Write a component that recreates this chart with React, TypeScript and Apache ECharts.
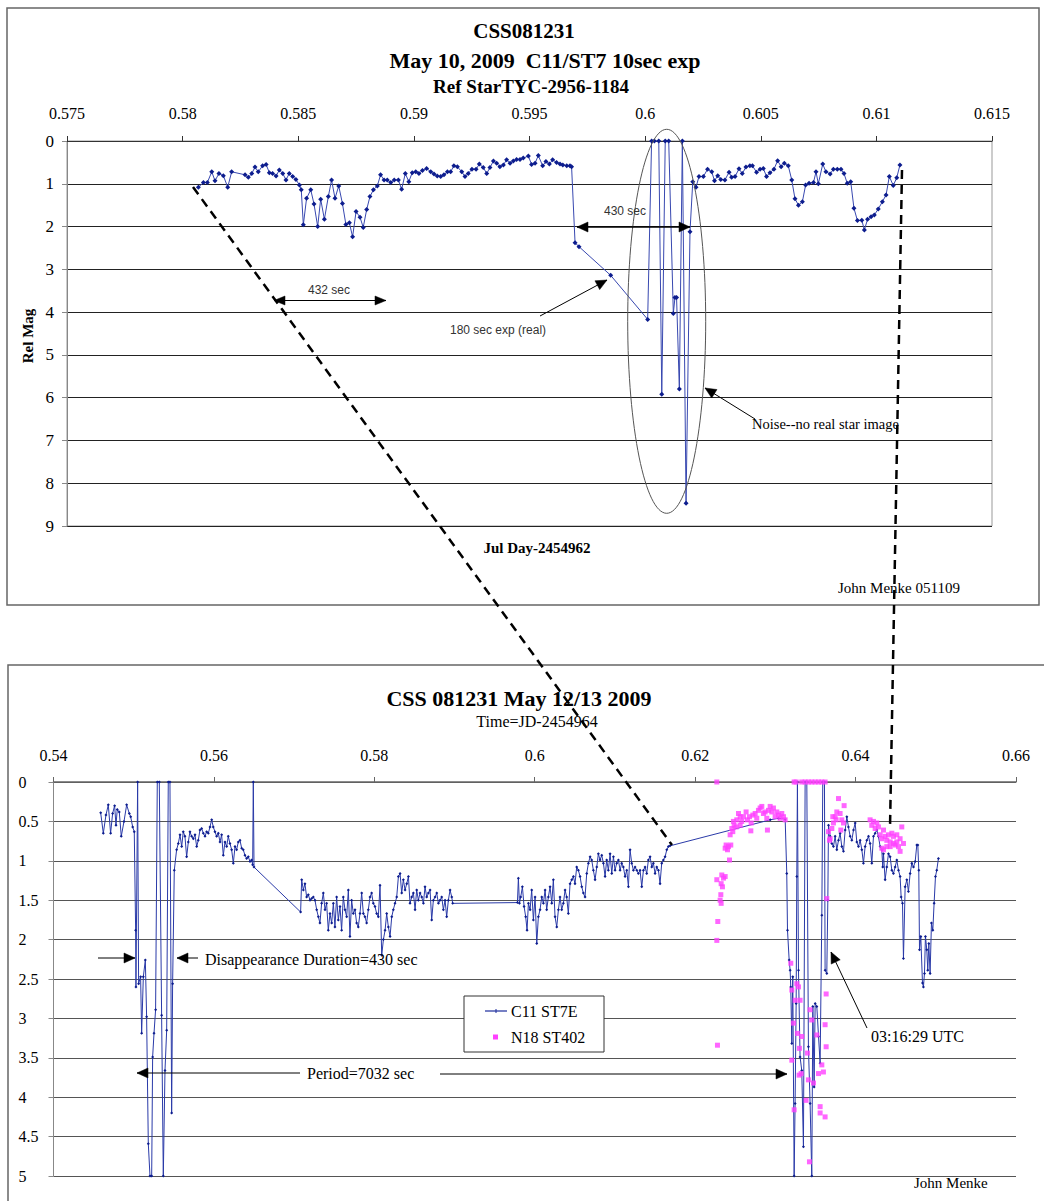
import React, { useEffect, useRef } from 'react';
import * as echarts from 'echarts';

const SERIF = '"Liberation Serif", "Times New Roman", serif';
const SANS = '"Liberation Sans", Arial, sans-serif';

// ---------- Top chart (May 10, 2009): [JD-2454962, Rel Mag] ----------
const topBeforeEclipse: number[][] = [
  [0.58068, 1.08], [0.5809, 0.97], [0.58107, 0.97], [0.58126, 0.72], [0.5814, 0.93], [0.58157, 0.76], [0.58176, 0.81],
  [0.58195, 1.08], [0.58212, 0.72], [0.5827, 0.79], [0.58284, 0.85], [0.58299, 0.76], [0.58313, 0.61], [0.58327, 0.72],
  [0.58346, 0.58], [0.58361, 0.55], [0.58375, 0.74], [0.58389, 0.76], [0.58404, 0.82], [0.58418, 0.68], [0.58433, 0.76],
  [0.58447, 0.91], [0.58461, 0.76], [0.58476, 0.83], [0.5849, 0.9], [0.58505, 1.03], [0.58513, 1.14], [0.58522, 1.96],
  [0.58536, 1.34], [0.58554, 1.14], [0.58568, 1.47], [0.58584, 2.0], [0.58597, 1.36], [0.58613, 1.83], [0.5863, 1.3],
  [0.58644, 0.91], [0.58659, 1.34], [0.58675, 1.05], [0.58691, 1.46], [0.58706, 1.95], [0.58721, 1.91], [0.58735, 2.24],
  [0.5875, 1.65], [0.58767, 1.78], [0.58781, 2.02], [0.58796, 1.6], [0.5881, 1.3], [0.58825, 1.14], [0.58842, 1.05],
  [0.58856, 0.79], [0.58871, 0.91], [0.58885, 0.91], [0.589, 0.97], [0.58915, 0.91], [0.58933, 0.91], [0.58947, 1.13],
  [0.58963, 0.76], [0.58978, 0.95], [0.58993, 0.74], [0.59008, 0.72], [0.59022, 0.76], [0.59037, 0.69], [0.59055, 0.64],
  [0.59073, 0.72], [0.59087, 0.77], [0.59101, 0.82], [0.59116, 0.83], [0.5913, 0.79], [0.59145, 0.72], [0.59159, 0.72],
  [0.59173, 0.58], [0.59188, 0.6], [0.59207, 0.72], [0.59221, 0.83], [0.59235, 0.76], [0.59251, 0.66], [0.59269, 0.66],
  [0.59283, 0.54], [0.593, 0.62], [0.59315, 0.76], [0.59329, 0.62], [0.59344, 0.47], [0.59358, 0.52], [0.59372, 0.6],
  [0.59387, 0.56], [0.59401, 0.44], [0.59416, 0.52], [0.5943, 0.47], [0.59444, 0.43], [0.59459, 0.43], [0.59473, 0.4],
  [0.59495, 0.35], [0.59509, 0.55], [0.59524, 0.52], [0.59538, 0.34], [0.59557, 0.58], [0.59571, 0.48], [0.59586, 0.54],
  [0.596, 0.44], [0.59617, 0.5], [0.59632, 0.54], [0.59644, 0.56], [0.59661, 0.58], [0.59675, 0.58], [0.59682, 0.6],
];
const topEclipse: number[][] = [
  [0.59697, 2.38], [0.59714, 2.47], [0.59851, 3.14], [0.60011, 4.17], [0.60028, 0], [0.6004, 0], [0.60059, 0],
  [0.60072, 5.92], [0.60087, 0], [0.60102, 0], [0.60122, 4.03], [0.60129, 3.66], [0.60136, 3.66], [0.60148, 5.8],
  [0.60161, 0], [0.60177, 8.47], [0.60194, 2.12],
];
const topAfterEclipse: number[][] = [
  [0.60206, 0.95], [0.6022, 1.08], [0.60233, 0.83], [0.60252, 0.83], [0.6027, 0.66], [0.60288, 0.72], [0.603, 0.93],
  [0.60314, 0.81], [0.60327, 0.9], [0.60345, 0.91], [0.60363, 0.73], [0.60374, 0.85], [0.60389, 0.83], [0.60406, 0.65],
  [0.6042, 0.76], [0.60436, 0.61], [0.60453, 0.58], [0.60464, 0.58], [0.60482, 0.73], [0.60497, 0.66], [0.60511, 0.64],
  [0.60525, 0.83], [0.6054, 0.74], [0.60557, 0.66], [0.60573, 0.46], [0.60588, 0.6], [0.60602, 0.52], [0.60619, 0.58],
  [0.60634, 0.91], [0.60648, 1.35], [0.60663, 1.5], [0.6068, 1.42], [0.60694, 1.03], [0.60709, 0.99], [0.60728, 0.97],
  [0.60739, 0.72], [0.60749, 1.0], [0.60768, 0.54], [0.60782, 0.72], [0.608, 0.77], [0.60814, 0.66], [0.60831, 0.66],
  [0.60847, 0.66], [0.6086, 0.76], [0.60874, 0.99], [0.60889, 0.95], [0.60903, 1.57], [0.60918, 1.86], [0.60937, 1.85],
  [0.60948, 2.08], [0.60962, 1.83], [0.60977, 1.77], [0.60991, 1.73], [0.61008, 1.59], [0.61026, 1.42], [0.61042, 1.26],
  [0.61056, 0.83], [0.61073, 1.04], [0.61088, 0.86], [0.61102, 0.56],
];

// ---------- Bottom chart (May 12/13, 2009): [JD-2454964, mag] ----------
const c11Start: number[][] = [
  [0.54588, 0.39], [0.54621, 0.65], [0.54654, 0.42], [0.54683, 0.29], [0.54712, 0.65], [0.54737, 0.4], [0.54762, 0.3],
  [0.54779, 0.55], [0.54795, 0.35], [0.5482, 0.38], [0.54845, 0.69], [0.54879, 0.5], [0.54912, 0.29], [0.54945, 0.4],
  [0.54962, 0.44], [0.54987, 0.57], [0.55007, 0.63],
];
const c11Eclipse1: number[][] = [
  [0.55024, 1.88], [0.55028, 2.6], [0.55049, 0], [0.55061, 2.56], [0.55086, 2.47], [0.55099, 3.19], [0.5512, 2.47],
  [0.55145, 2.26], [0.55161, 2.98], [0.55182, 4.59], [0.55203, 5], [0.55224, 5], [0.55236, 3.49], [0.55253, 3.19],
  [0.55273, 2.89], [0.55294, 0], [0.55319, 0], [0.55348, 2.96], [0.55369, 5], [0.5539, 3.66], [0.55411, 3.15],
  [0.55431, 0], [0.55452, 0], [0.55473, 4.2], [0.55485, 2.56],
];
const c11Recovery1: number[][] = [
  [0.55506, 1.12], [0.55535, 0.86], [0.55556, 0.78], [0.55577, 0.67], [0.55598, 0.82], [0.55618, 0.63], [0.55639, 0.69],
  [0.5566, 0.95], [0.55681, 0.76], [0.55701, 0.63], [0.55722, 0.69], [0.55743, 0.72], [0.55764, 0.67], [0.55785, 0.82],
  [0.55805, 0.74], [0.55826, 0.61], [0.55847, 0.59], [0.55868, 0.65], [0.55889, 0.69], [0.55909, 0.63], [0.5593, 0.65],
  [0.55951, 0.57], [0.55972, 0.48], [0.55992, 0.57], [0.56013, 0.63], [0.56034, 0.69], [0.56055, 0.65], [0.56076, 0.76],
  [0.56096, 0.67], [0.56117, 0.93], [0.56138, 0.76], [0.56159, 0.82], [0.56179, 0.69], [0.562, 0.78], [0.56221, 0.86],
  [0.56242, 1.03], [0.56263, 0.82], [0.56283, 0.86], [0.56304, 0.76], [0.56325, 0.74], [0.56346, 0.84], [0.56366, 0.86],
  [0.56387, 0.93], [0.56408, 0.97], [0.56429, 0.95], [0.5645, 1.01], [0.5647, 0.99], [0.56483, 1.05], [0.56491, 0],
  [0.565, 1.08],
];
const c11Minimum: number[][] = [
  [0.57081, 1.65], [0.57094, 1.24], [0.57115, 1.37], [0.57135, 1.29], [0.57156, 1.46], [0.57177, 1.43], [0.57198, 1.5],
  [0.57218, 1.48], [0.57239, 1.46], [0.5726, 1.5], [0.57281, 1.62], [0.57302, 1.71], [0.57322, 1.79], [0.57343, 1.54],
  [0.57364, 1.41], [0.57385, 1.62], [0.57405, 1.54], [0.57426, 1.88], [0.57447, 1.67], [0.57468, 1.79], [0.57489, 1.54],
  [0.57509, 1.84], [0.5753, 1.46], [0.57551, 1.75], [0.57572, 1.58], [0.57592, 1.88], [0.57613, 1.46], [0.57634, 1.62],
  [0.57655, 1.71], [0.57676, 1.37], [0.57696, 1.96], [0.57717, 1.5], [0.57738, 1.67], [0.57759, 1.62], [0.57779, 1.79],
  [0.578, 1.84], [0.57821, 1.67], [0.57842, 1.41], [0.57863, 1.67], [0.57883, 1.71], [0.57904, 1.79], [0.57925, 1.62],
  [0.57946, 1.46], [0.57966, 1.41], [0.57987, 1.54], [0.58008, 1.58], [0.58029, 1.67], [0.5805, 1.71], [0.58071, 1.31],
  [0.58092, 2.2], [0.58113, 2.0], [0.58134, 1.88], [0.58154, 1.67], [0.58175, 1.84], [0.58196, 1.96], [0.58217, 1.71],
  [0.58237, 1.62], [0.58258, 1.54], [0.58279, 1.46], [0.583, 1.2], [0.58321, 1.16], [0.58341, 1.41], [0.58362, 1.24],
  [0.58383, 1.37], [0.58404, 1.29], [0.58425, 1.2], [0.58445, 1.54], [0.58466, 1.46], [0.58487, 1.41], [0.58508, 1.62],
  [0.58528, 1.37], [0.58549, 1.5], [0.5857, 1.41], [0.58591, 1.46], [0.58612, 1.54], [0.58632, 1.33], [0.58653, 1.46],
  [0.58674, 1.41], [0.58695, 1.37], [0.58715, 1.75], [0.58736, 1.5], [0.58757, 1.46], [0.58778, 1.41], [0.58799, 1.54],
  [0.58819, 1.5], [0.5884, 1.46], [0.58861, 1.62], [0.58882, 1.5], [0.58902, 1.71], [0.58923, 1.5], [0.58944, 1.37],
  [0.58965, 1.46], [0.58977, 1.54], [0.59784, 1.53],
];
const c11Rise: number[][] = [
  [0.59796, 1.22], [0.59809, 1.54], [0.59825, 1.46], [0.59846, 1.33], [0.59867, 1.58], [0.59887, 1.71], [0.59904, 1.88],
  [0.59921, 1.54], [0.59942, 1.62], [0.59962, 1.37], [0.59983, 1.75], [0.60004, 1.46], [0.60025, 2.05], [0.60045, 1.71],
  [0.60066, 1.62], [0.60087, 1.46], [0.60108, 1.54], [0.60129, 1.37], [0.60149, 1.62], [0.6017, 1.46], [0.60191, 1.33],
  [0.60212, 1.54], [0.60232, 1.24], [0.60253, 1.71], [0.60274, 1.84], [0.60295, 1.62], [0.60315, 1.46], [0.60336, 1.62],
  [0.60357, 1.54], [0.60378, 1.37], [0.60398, 1.46], [0.60419, 1.67], [0.6044, 1.29], [0.60461, 1.24], [0.60482, 1.2],
  [0.60502, 1.29], [0.60523, 1.08], [0.60544, 1.12], [0.60565, 1.2], [0.60586, 1.33], [0.60606, 1.41], [0.60627, 1.46],
  [0.60648, 1.16], [0.60669, 1.03], [0.6069, 0.95], [0.6071, 0.99], [0.60731, 1.12], [0.60752, 1.24], [0.60773, 1.08],
  [0.60793, 0.91], [0.60814, 0.99], [0.60835, 0.93], [0.60856, 1.03], [0.60877, 1.2], [0.60897, 0.99], [0.60918, 1.12],
  [0.60939, 0.91], [0.6096, 1.16], [0.60981, 0.95], [0.61001, 1.12], [0.61022, 1.03], [0.61043, 0.99], [0.61064, 1.12],
  [0.61084, 1.03], [0.61105, 1.08], [0.61126, 1.2], [0.61147, 1.12], [0.61168, 1.33], [0.61188, 0.86], [0.61209, 1.03],
  [0.6123, 1.12], [0.61251, 1.08], [0.61272, 1.12], [0.61292, 1.16], [0.61313, 1.12], [0.61334, 1.33], [0.61355, 1.12],
  [0.61375, 1.08], [0.61396, 1.16], [0.61417, 0.99], [0.61438, 0.95], [0.61459, 1.08], [0.61479, 1.03], [0.615, 1.16],
  [0.61521, 1.08], [0.61542, 1.12], [0.61562, 1.29], [0.61583, 1.03], [0.61604, 0.99], [0.61625, 0.95], [0.61646, 0.86],
  [0.61666, 0.82], [0.61687, 0.81], [0.62935, 0.48], [0.63038, 0.46], [0.63122, 0.47],
];
const c11Eclipse2: number[][] = [
  [0.63142, 1.16], [0.63151, 1.88], [0.63172, 2.26], [0.63184, 2.39], [0.63192, 2.6], [0.63205, 3.32], [0.63217, 2.47],
  [0.63234, 5], [0.63246, 4.08], [0.63259, 2.81], [0.63267, 1.2], [0.63275, 0], [0.63288, 2.39], [0.63308, 3.49],
  [0.63329, 3.66], [0.6335, 4.63], [0.63371, 0], [0.63392, 0], [0.63412, 3.36], [0.63433, 4.08], [0.63454, 5],
  [0.63467, 2.85], [0.63483, 3.87], [0.63496, 2.81], [0.63517, 2.85], [0.63538, 3.23], [0.63558, 3.57], [0.63579, 1.69],
  [0.63591, 0], [0.63612, 0], [0.6362, 2.39], [0.63641, 2.43], [0.63654, 1.5],
];
const c11End: number[][] = [
  [0.63662, 0.55], [0.63683, 0.69], [0.63704, 0.78], [0.63724, 0.82], [0.63745, 0.69], [0.63766, 0.86], [0.63787, 0.74],
  [0.63807, 0.65], [0.63828, 0.82], [0.63849, 0.88], [0.6387, 0.61], [0.63891, 0.44], [0.63911, 0.57], [0.63932, 0.69],
  [0.63953, 0.74], [0.63974, 0.61], [0.63995, 0.52], [0.64015, 0.76], [0.64036, 0.82], [0.64057, 0.74], [0.64078, 0.86],
  [0.64098, 1.03], [0.64119, 0.82], [0.6414, 0.74], [0.64161, 0.69], [0.64181, 0.78], [0.64202, 1.03], [0.64223, 0.69],
  [0.64244, 0.65], [0.64265, 0.61], [0.64285, 0.69], [0.64306, 0.82], [0.64327, 0.86], [0.64339, 1.08], [0.64348, 0.91],
  [0.64368, 1.24], [0.64389, 1.08], [0.6441, 0.91], [0.64431, 0.95], [0.64452, 1.12], [0.64472, 1.16], [0.64493, 1.08],
  [0.64514, 0.99], [0.64535, 1.12], [0.64555, 1.2], [0.64568, 1.46], [0.64585, 1.54], [0.64597, 2.24], [0.64618, 1.33],
  [0.64639, 1.24], [0.64659, 1.39], [0.6468, 1.16], [0.64701, 1.03], [0.64722, 1.08], [0.64743, 1.01], [0.64763, 0.8],
  [0.64776, 0.8], [0.64788, 1.12], [0.64797, 2.13], [0.64813, 1.96], [0.64834, 2.55], [0.64846, 2.6], [0.64859, 2.43],
  [0.64871, 1.96], [0.64888, 2.13], [0.649, 2.39], [0.64913, 2.05], [0.64929, 2.43], [0.64946, 1.79], [0.64963, 1.88],
  [0.64979, 1.54], [0.64996, 1.2], [0.65012, 1.12], [0.65033, 0.97],
];

const n18Rise: number[][] = [
  [0.6227, 0], [0.62278, 3.34], [0.6227, 2.01], [0.62282, 1.77], [0.62324, 1.54], [0.62311, 1.5], [0.6232, 1.43],
  [0.6234, 1.33], [0.62324, 1.29], [0.6227, 1.24], [0.62353, 1.22], [0.62374, 1.2], [0.62332, 1.18], [0.62428, 0.99],
  [0.62403, 0.86], [0.62374, 0.84], [0.62415, 0.82], [0.62444, 0.8], [0.62386, 0.8], [0.62436, 0.67], [0.62469, 0.63],
  [0.62457, 0.59], [0.62486, 0.55], [0.62477, 0.5], [0.62519, 0.48], [0.62511, 0.57], [0.62561, 0.44], [0.6254, 0.4],
  [0.62581, 0.5], [0.62602, 0.44], [0.62635, 0.38], [0.62652, 0.48], [0.62677, 0.44], [0.62698, 0.52], [0.62719, 0.42],
  [0.62748, 0.4], [0.62768, 0.46], [0.62789, 0.36], [0.6281, 0.33], [0.62831, 0.31], [0.62851, 0.4], [0.62872, 0.38],
  [0.62893, 0.46], [0.62914, 0.36], [0.62935, 0.31], [0.62955, 0.38], [0.62976, 0.33], [0.62997, 0.44], [0.63018, 0.38],
  [0.63039, 0.42], [0.63059, 0.46], [0.6308, 0.4], [0.63101, 0.44], [0.63122, 0.48], [0.62901, 0.61], [0.62694, 0.62],
  [0.62561, 0.55],
];
const n18Eclipse: number[][] = [
  [0.63234, 0], [0.63259, 0], [0.63329, 0], [0.63371, 0], [0.63412, 0], [0.63454, 0], [0.63496, 0], [0.63538, 0],
  [0.63579, 0], [0.6362, 0], [0.63192, 2.3], [0.63205, 2.64], [0.63267, 2.56], [0.63288, 2.6], [0.63308, 2.77],
  [0.63246, 2.77], [0.63226, 3.06], [0.63275, 3.19], [0.63329, 3.23], [0.633, 3.38], [0.634, 3.44], [0.63205, 3.53],
  [0.63321, 3.7], [0.63296, 3.72], [0.63433, 2.89], [0.63517, 3.21], [0.63538, 3.7], [0.63579, 3.59], [0.63599, 3.68],
  [0.63454, 3.02], [0.63475, 3.82], [0.63412, 3.78], [0.63383, 4.04], [0.63234, 4.16], [0.63558, 4.12], [0.6362, 4.25],
  [0.63558, 4.2], [0.63425, 4.82], [0.63633, 3.36], [0.6362, 3.08], [0.63633, 2.69], [0.63641, 1.48],
];
const n18After: number[][] = [
  [0.63662, 0.63], [0.63683, 0.72], [0.63704, 0.59], [0.63724, 0.52], [0.63745, 0.44], [0.63766, 0.38], [0.63787, 0.21],
  [0.63807, 0.4], [0.63828, 0.48], [0.63849, 0.52], [0.63857, 0.3], [0.63675, 0.74], [0.63716, 0.44], [0.63758, 0.48],
  [0.63816, 0.61], [0.64181, 0.48], [0.64223, 0.5], [0.64265, 0.52], [0.64202, 0.55], [0.64244, 0.59], [0.64285, 0.57],
  [0.64306, 0.67], [0.64327, 0.72], [0.64348, 0.61], [0.64368, 0.69], [0.64389, 0.74], [0.6441, 0.67], [0.64431, 0.76],
  [0.64452, 0.65], [0.64472, 0.69], [0.64493, 0.8], [0.64514, 0.76], [0.64535, 0.82], [0.64555, 0.72], [0.64576, 0.57],
  [0.64597, 0.78], [0.64555, 0.88], [0.64348, 0.86], [0.64431, 0.82], [0.64327, 0.84], [0.64389, 0.82], [0.64472, 0.78],
  [0.64514, 0.67],
];

const topSeriesData = [...topBeforeEclipse, ...topEclipse, ...topAfterEclipse];
const c11Data = [...c11Start, ...c11Eclipse1, ...c11Recovery1, ...c11Minimum, ...c11Rise, ...c11Eclipse2, ...c11End];
const n18Data = [...n18Rise, ...n18Eclipse, ...n18After];

// ---------- drawing helpers ----------
const txt = (text: string, x: number, y: number, font: string, align = 'left', color = '#000', z = 60) => ({
  type: 'text', x, y, z,
  style: { text, font, fill: color, textAlign: align, textVerticalAlign: 'middle', align, verticalAlign: 'middle' },
});
const seg = (x1: number, y1: number, x2: number, y2: number, color = '#000', w = 1, dash?: number[], z = 60) => ({
  type: 'line', z, shape: { x1, y1, x2, y2 }, style: { stroke: color, lineWidth: w, lineDash: dash },
});
const head = (tx: number, ty: number, fx: number, fy: number, len = 10, half = 4.5, color = '#000') => {
  const dx = tx - fx, dy = ty - fy;
  const d = Math.sqrt(dx * dx + dy * dy) || 1;
  const ux = dx / d, uy = dy / d;
  const bx = tx - ux * len, by = ty - uy * len;
  return {
    type: 'polygon', z: 61,
    shape: { points: [[tx, ty], [bx - uy * half, by + ux * half], [bx + uy * half, by - ux * half]] },
    style: { fill: color, stroke: color, lineWidth: 0.5 },
  };
};
const arrow = (x1: number, y1: number, x2: number, y2: number, color = '#000', w = 1, len = 10, half = 4.5) => [
  seg(x1, y1, x2, y2, color, w), head(x2, y2, x1, y1, len, half, color),
];

const numFmt = (v: number) => String(parseFloat(v.toFixed(4)));

function buildOption(): any {
  const axisLabelStyle = { fontFamily: SERIF, fontSize: 15, color: '#000' };
  const relMag: any = txt('Rel Mag', 28, 336, `bold 15px ${SERIF}`, 'center');
  relMag.rotation = Math.PI / 2;
  const graphic: any[] = [
    // frames
    { type: 'rect', z: 1, shape: { x: 7, y: 8, width: 1032, height: 597 }, style: { fill: 'none', stroke: '#666', lineWidth: 1.5 } },
    { type: 'rect', z: 1, shape: { x: 8, y: 665, width: 1060, height: 600 }, style: { fill: 'none', stroke: '#666', lineWidth: 1.5 } },
    // top titles
    txt('CSS081231', 524, 31, `bold 21px ${SERIF}`, 'center'),
    txt('May 10, 2009  C11/ST7 10sec exp', 545, 60, `bold 22px ${SERIF}`, 'center'),
    txt('Ref StarTYC-2956-1184', 531, 86, `bold 19px ${SERIF}`, 'center'),
    relMag,
    txt('Jul Day-2454962', 537, 548, `bold 15px ${SERIF}`, 'center'),
    txt('John Menke 051109', 838, 588, `15px ${SERIF}`, 'left'),
    // top annotations
    txt('432 sec', 329, 290, `12px ${SANS}`, 'center', '#333'),
    ...arrow(330, 300.5, 274, 300.5, '#000', 1, 11, 4.5),
    ...arrow(330, 300.5, 386, 300.5, '#000', 1, 11, 4.5),
    txt('430 sec', 625, 211, `12px ${SANS}`, 'center', '#333'),
    ...arrow(633, 227, 577, 227, '#000', 1.5, 11, 5),
    ...arrow(633, 227, 690, 227, '#000', 1.5, 11, 5),
    txt('180 sec exp (real)', 450, 330, `12px ${SANS}`, 'left', '#333'),
    ...arrow(540, 316, 607, 280, '#000', 1, 11, 5),
    { type: 'ellipse', z: 55, shape: { cx: 666.7, cy: 321.3, rx: 39, ry: 192 }, style: { fill: 'none', stroke: '#555', lineWidth: 1 } },
    txt('Noise--no real star image', 752, 424, `14.5px ${SERIF}`, 'left'),
    ...arrow(755, 419, 705, 388, '#000', 1, 11, 5),
    // bottom titles
    txt('CSS 081231 May 12/13 2009', 519, 698, `bold 22px ${SERIF}`, 'center'),
    txt('Time=JD-2454964', 537, 721, `16px ${SERIF}`, 'center'),
    txt('John Menke', 914, 1183, `15px ${SERIF}`, 'left'),
    // bottom annotations
    txt('Disappearance Duration=430 sec', 205, 959, `16px ${SERIF}`, 'left'),
    ...arrow(98, 958, 135, 958, '#000', 1, 11, 5),
    ...arrow(198, 958, 177, 958, '#000', 1, 11, 5),
    txt('Period=7032 sec', 307, 1073, `16px ${SERIF}`, 'left'),
    ...arrow(300, 1073, 137, 1073, '#000', 1, 11, 5),
    ...arrow(440, 1074, 787, 1074, '#000', 1, 11, 5),
    txt('03:16:29 UTC', 871, 1036, `16px ${SERIF}`, 'left'),
    ...arrow(867, 1028, 831, 952, '#000', 1, 11, 5),
    // legend
    { type: 'rect', z: 58, shape: { x: 464, y: 996, width: 140, height: 56 }, style: { fill: '#fff', stroke: '#333', lineWidth: 1 } },
    seg(485, 1011, 507, 1011, '#1a2a9c', 1.2),
    seg(496, 1009, 496, 1013, '#1a2a9c', 1),
    txt('C11 ST7E', 511, 1011, `16px ${SERIF}`, 'left'),
    { type: 'rect', z: 60, shape: { x: 493, y: 1034.5, width: 5, height: 5 }, style: { fill: '#ff40ff' } },
    txt('N18 ST402', 511, 1037, `16px ${SERIF}`, 'left'),
    // connecting dashed lines
    seg(193, 187, 672, 845, '#000', 2.5, [9, 6], 100),
    seg(902, 170, 890, 828, '#000', 2.5, [9, 6], 100),
  ];

  return {
    animation: false,
    backgroundColor: '#fff',
    grid: [
      { left: 67, top: 141, width: 925, height: 385, show: true, borderColor: '#999', borderWidth: 1, backgroundColor: 'transparent' },
      { left: 53.5, top: 782, width: 962.5, height: 394, show: false },
    ],
    xAxis: [
      {
        gridIndex: 0, type: 'value', position: 'top', min: 0.575, max: 0.615, interval: 0.005,
        axisLine: { show: true, lineStyle: { color: '#333', width: 1 } },
        axisTick: { show: true, length: 5, lineStyle: { color: '#333' } },
        axisLabel: { ...axisLabelStyle, fontSize: 16, margin: 20, formatter: numFmt },
        splitLine: { show: false },
      },
      {
        gridIndex: 1, type: 'value', position: 'top', min: 0.54, max: 0.66, interval: 0.02,
        axisLine: { show: true, lineStyle: { color: '#666', width: 1.5 } },
        axisTick: { show: true, length: 5, lineStyle: { color: '#666' } },
        axisLabel: { ...axisLabelStyle, fontSize: 16, margin: 19, formatter: numFmt },
        splitLine: { show: false },
      },
    ],
    yAxis: [
      {
        gridIndex: 0, type: 'value', inverse: true, min: 0, max: 9, interval: 1,
        axisLine: { show: true, lineStyle: { color: '#888' } },
        axisTick: { show: true, length: 5, lineStyle: { color: '#888' } },
        axisLabel: { ...axisLabelStyle, fontSize: 17, margin: 13 },
        splitLine: { show: true, lineStyle: { color: '#222', width: 1 } },
      },
      {
        gridIndex: 1, type: 'value', inverse: true, min: 0, max: 5, interval: 0.5,
        axisLine: { show: true, lineStyle: { color: '#888' } },
        axisTick: { show: true, length: 5, lineStyle: { color: '#888' } },
        axisLabel: { ...axisLabelStyle, fontSize: 16, margin: 35, align: 'left', formatter: numFmt },
        splitLine: { show: true, lineStyle: { color: '#555', width: 1.2 } },
      },
    ],
    series: [
      {
        name: 'C11/ST7', type: 'line', xAxisIndex: 0, yAxisIndex: 0, data: topSeriesData,
        symbol: 'diamond', symbolSize: 5, showSymbol: true,
        lineStyle: { color: '#3848b0', width: 1 }, itemStyle: { color: '#0d1d8e' }, z: 5,
      },
      {
        name: 'C11 ST7E', type: 'line', xAxisIndex: 1, yAxisIndex: 1, data: c11Data,
        symbol: 'diamond', symbolSize: 3, showSymbol: true,
        lineStyle: { color: '#2a3aa8', width: 1 }, itemStyle: { color: '#0d1d8e' }, z: 5,
      },
      {
        name: 'N18 ST402', type: 'scatter', xAxisIndex: 1, yAxisIndex: 1, data: n18Data,
        symbol: 'rect', symbolSize: 5, itemStyle: { color: '#ff40ff' }, z: 6,
      },
    ],
    graphic,
  };
}

export default function App() {
  const ref = useRef<HTMLDivElement>(null);
  useEffect(() => {
    document.body.style.margin = '0';
    const chart = echarts.init(ref.current as HTMLDivElement, null, { renderer: 'svg' });
    chart.setOption(buildOption());
    return () => chart.dispose();
  }, []);
  return <div ref={ref} style={{ width: 1044, height: 1201 }} />;
}
